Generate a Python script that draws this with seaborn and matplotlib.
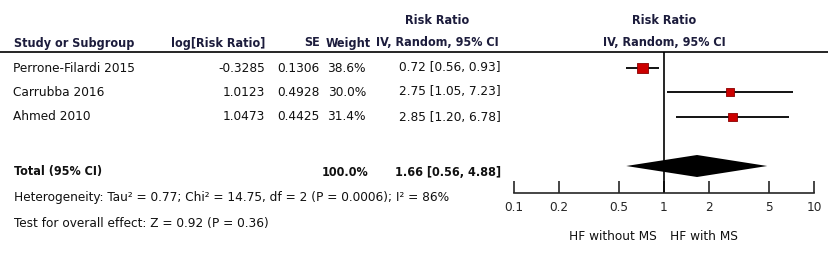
import matplotlib
matplotlib.use("Agg")
import matplotlib.pyplot as plt
from matplotlib import font_manager
import seaborn as sns
import pandas as pd

# Datos del forest plot
studies = ["Perrone-Filardi 2015", "Carrubba 2016", "Ahmed 2010"]
log_rr = ["-0.3285", "1.0123", "1.0473"]
se = ["0.1306", "0.4928", "0.4425"]
weights = [38.6, 30.0, 31.4]
rr = [0.72, 2.75, 2.85]
ci_low = [0.56, 1.05, 1.20]
ci_high = [0.93, 7.23, 6.78]
total_rr, total_low, total_high = 1.66, 0.56, 4.88
ticks = [0.1, 0.2, 0.5, 1, 2, 5, 10]
heterog = "Heterogeneity: Tau² = 0.77; Chi² = 14.75, df = 2 (P = 0.0006); I² = 86%"
overall = "Test for overall effect: Z = 0.92 (P = 0.36)"

# Posiciones (pixeles)
W, H = 829, 257
row_y = [68, 92, 117]
total_y = 170
axis_y = 193
rule_y = 52

sns.set_style("white")

# Buscar una fuente estrecha (Arial Narrow en el original)
fonts = font_manager.fontManager.ttflist
names = {f.name for f in fonts}
stretch = "normal"
if "Liberation Sans Narrow" in names:
    fam, fs, fb = "Liberation Sans Narrow", 11, 11
elif any(f.name == "DejaVu Sans" and f.stretch == "condensed" for f in fonts):
    fam, fs, fb, stretch = "DejaVu Sans", 9.7, 9.0, "condensed"
else:
    fam, fs, fb = "Liberation Sans", 9.6, 9.0
plt.rcParams["font.family"] = [fam, "DejaVu Sans"]
plt.rcParams["font.stretch"] = stretch
navy = "#1c1c3c"

fig = plt.figure(figsize=(W / 100, H / 100), dpi=100)
ax_t = fig.add_axes([0, 0, 1, 1])
ax_t.set_xlim(0, W)
ax_t.set_ylim(H, 0)
ax_t.axis("off")

# Encabezados
hd = dict(fontsize=fb, fontweight="bold", color=navy, va="center")
ax_t.text(14, 43, "Study or Subgroup", ha="left", **hd)
ax_t.text(265, 43, "log[Risk Ratio]", ha="right", **hd)
ax_t.text(320, 43, "SE", ha="right", **hd)
ax_t.text(371, 43, "Weight", ha="right", **hd)
ax_t.text(437, 20, "Risk Ratio", ha="center", **hd)
ax_t.text(437, 43, "IV, Random, 95% CI", ha="center", **hd)
ax_t.text(664, 20, "Risk Ratio", ha="center", **hd)
ax_t.text(664, 43, "IV, Random, 95% CI", ha="center", **hd)
ax_t.plot([0, 828], [rule_y, rule_y], color="black", lw=1.2)

# Filas de estudios
tx = dict(fontsize=fs, color="#111111", va="center")
for i, y in enumerate(row_y):
    ax_t.text(13, y, studies[i], ha="left", **tx)
    ax_t.text(265, y, log_rr[i], ha="right", **tx)
    ax_t.text(320, y, se[i], ha="right", **tx)
    ax_t.text(366, y, f"{weights[i]:.1f}%", ha="right", **tx)
    ax_t.text(501, y, f"{rr[i]:.2f} [{ci_low[i]:.2f}, {ci_high[i]:.2f}]", ha="right", **tx)

# Total
bd = dict(fontsize=fb, fontweight="bold", color="#111111", va="center")
ax_t.text(14, total_y + 2, "Total (95% CI)", ha="left", **bd)
ax_t.text(368, total_y + 2, f"{sum(weights):.1f}%", ha="right", **bd)
ax_t.text(501, total_y + 2, f"{total_rr:.2f} [{total_low:.2f}, {total_high:.2f}]",
          ha="right", **bd)
ax_t.text(14, 198, heterog, ha="left", **tx)
ax_t.text(14, 223, overall, ha="left", **tx)

# Panel del forest plot (escala log)
x0, x1 = 514, 814
ax = fig.add_axes([x0 / W, (H - axis_y) / H, (x1 - x0) / W, (axis_y - rule_y) / H])
ax.set_xscale("log")
ax.set_xlim(0.1, 10)
ax.set_ylim(axis_y, rule_y)
ax.patch.set_alpha(0)
for s in ["top", "left", "right"]:
    ax.spines[s].set_visible(False)
ax.spines["bottom"].set_linewidth(1.2)
ax.axvline(1, color="black", lw=1.2)

df = pd.DataFrame({"rr": rr, "y": row_y, "w": weights})
ax.hlines(row_y, ci_low, ci_high, color="black", lw=1.3)
sns.scatterplot(data=df, x="rr", y="y", size="w", sizes=(38, 58), marker="s",
                color="#cc0000", edgecolor="#8a0000", linewidth=0.6, legend=False,
                ax=ax, zorder=3)
dh = 11
ax.fill([total_low, total_rr, total_high, total_rr],
        [total_y - 4, total_y - 4 - dh, total_y - 4, total_y - 4 + dh], color="black", lw=0)

ax.set_xticks(ticks)
ax.set_xticklabels([f"{t:g}" for t in ticks], fontsize=fs)
ax.xaxis.set_minor_locator(matplotlib.ticker.NullLocator())
ax.tick_params(axis="x", direction="in", length=9, width=1.2, pad=6, bottom=True)
ax.set_yticks([])
ax.set_xlabel("")
ax.set_ylabel("")

ax_t.text(657, 236, "HF without MS", ha="right", **tx)
ax_t.text(670, 236, "HF with MS", ha="left", **tx)

fig.savefig("out.png", dpi=100)
